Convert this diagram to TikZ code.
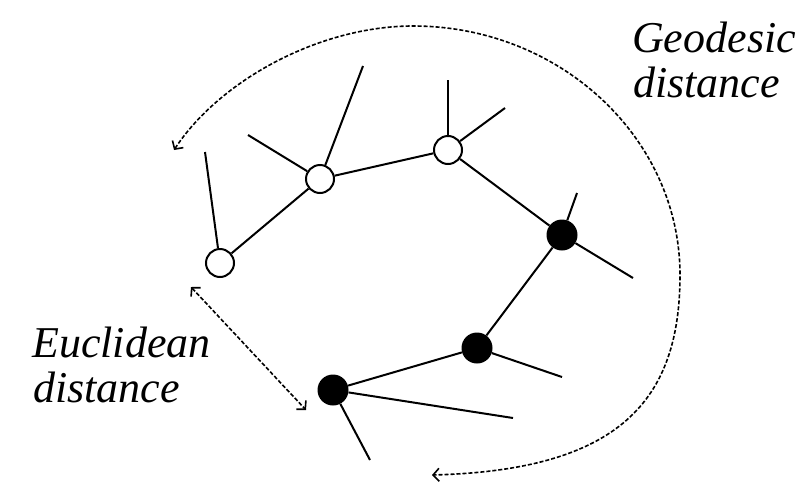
\documentclass[tikz,border=0pt]{standalone}
\usepackage{fontspec}
\setmainfont{Liberation Serif}
\usetikzlibrary{arrows.meta}
\begin{document}
\begin{tikzpicture}[x=1pt,y=-1pt,
  opennode/.style={circle,draw,line width=2pt,fill=white,minimum size=28pt,inner sep=0pt},
  fullnode/.style={circle,fill=black,minimum size=31pt,inner sep=0pt},
  branch/.style={line width=2pt},
  tipbarb/.tip={Straight Barb[length=6pt,width=13pt,line width=1.6pt]},
  distarrow/.style={dash pattern=on 4pt off 2pt,line width=1.6pt,tipbarb-tipbarb},
  lbl/.style={font=\fontsize{44}{45}\selectfont\itshape,inner sep=0pt,anchor=base west}]
\useasboundingbox (0,0) rectangle (802,490);

% nodes
\node[opennode] (A) at (220,263) {};
\node[opennode] (B) at (320,179) {};
\node[opennode] (C) at (448,150) {};
\node[fullnode] (D) at (562,235) {};
\node[fullnode] (E) at (477,348) {};
\node[fullnode] (F) at (333,390) {};

% free ends
\coordinate (a1) at (205,152);
\coordinate (b1) at (248,135);
\coordinate (b2) at (363,66);
\coordinate (c1) at (448,80);
\coordinate (c2) at (505,108);
\coordinate (d1) at (577,193);
\coordinate (d2) at (633,278);
\coordinate (e1) at (562,377);
\coordinate (f1) at (513,418);
\coordinate (f2) at (370,460);

% edges
\draw[branch] (A) -- (B);
\draw[branch] (B) -- (C);
\draw[branch] (C) -- (D);
\draw[branch] (D) -- (E);
\draw[branch] (E) -- (F);
\draw[branch] (A) -- (a1);
\draw[branch] (B) -- (b1);
\draw[branch] (B) -- (b2);
\draw[branch] (C) -- (c1);
\draw[branch] (C) -- (c2);
\draw[branch] (D) -- (d1);
\draw[branch] (D) -- (d2);
\draw[branch] (E) -- (e1);
\draw[branch] (F) -- (f1);
\draw[branch] (F) -- (f2);

% distance arrows
\coordinate (g0) at (432,475);
\coordinate (g1) at (680,275);
\coordinate (g2) at (413,26);
\coordinate (g3) at (174,150);
\draw[distarrow] (g3) .. controls (220,80) and (320,26) .. (g2)
  .. controls (560,26) and (680,138) .. (g1)
  .. controls (680,400) and (620,470) .. (g0);

\coordinate (u0) at (191,287);
\coordinate (u1) at (306,410);
\draw[distarrow] (u0) -- (u1);

% labels
\node[lbl] (geo1) at (632,52) {Geodesic};
\node[lbl] (geo2) at (633,97) {distance};
\node[lbl] (euc1) at (32,357) {Euclidean};
\node[lbl] (euc2) at (33,402) {distance};
\end{tikzpicture}
\end{document}
